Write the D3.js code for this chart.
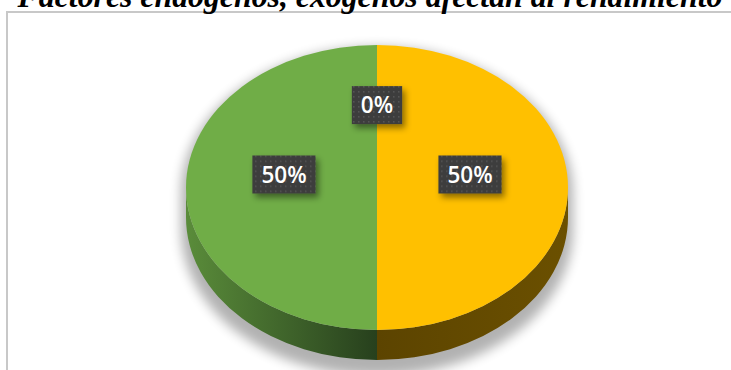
<!DOCTYPE html>
<html><head><meta charset="utf-8">
<script src="https://cdn.jsdelivr.net/npm/d3@7"></script>
<style>html,body{margin:0;padding:0;background:#fff;overflow:hidden}</style>
</head><body>
<script>
const title = "Factores endógenos, exógenos afectan al rendimiento";
const categories = ["Factores endógenos", "Factores exógenos", "Ninguno"];
const values = [50, 50, 0];
const labels = ["50%", "50%", "0%"];
const colors = ["#FFC000", "#70AD47", "#A5A5A5"];
const sideColors = [["#6b5000", "#5c4400"], ["#27401d", "#5a8c3a"], ["#555", "#444"]];

const W = 731, H = 370;
const cx = 377, cy = 187.5, rx = 191, ry = 142.5, depth = 30;
const k = ry / rx;

const svg = d3.select("body").append("svg").attr("width", W).attr("height", H);
const defs = svg.append("defs");

// chart border
svg.append("rect").attr("x", 7).attr("y", 12).attr("width", W + 10).attr("height", H + 10)
  .attr("fill", "none").attr("stroke", "#c8c8c8").attr("stroke-width", 2);

// title
const t = svg.append("text").attr("x", 370).attr("y", 7).attr("text-anchor", "middle")
  .attr("font-family", "'Liberation Serif','Times New Roman',serif").attr("font-weight", "bold")
  .attr("font-style", "italic").attr("font-size", 28).attr("fill", "#000").text(title);
const tl = t.node().getComputedTextLength();
t.attr("font-size", 28 * 705 / tl);

// shadow
const blur = defs.append("filter").attr("id", "blur").attr("x", "-20%").attr("y", "-20%").attr("width", "140%").attr("height", "140%");
blur.append("feGaussianBlur").attr("stdDeviation", 6);
svg.append("path")
  .attr("d", `M${cx - rx - 5},${cy + 6} A${rx + 5},${ry + 4} 0 0 1 ${cx + rx + 5},${cy + 6} L${cx + rx + 5},${cy + depth + 12} A${rx + 5},${ry + 4} 0 0 1 ${cx - rx - 5},${cy + depth + 12} Z`)
  .attr("fill", "#000").attr("opacity", 0.3).attr("filter", "url(#blur)");

const pie = d3.pie().value(d => d).sort(null);
const arcs = pie(values);

const pt = (a, dy) => [cx + rx * Math.sin(a), cy - ry * Math.cos(a) + dy];

// side walls
arcs.forEach((d, i) => {
  const a0 = Math.max(d.startAngle, Math.PI / 2), a1 = Math.min(d.endAngle, 3 * Math.PI / 2);
  if (a1 <= a0) return;
  const g = defs.append("linearGradient").attr("id", "side" + i).attr("gradientUnits", "userSpaceOnUse")
    .attr("x1", pt(a0, 0)[0]).attr("y1", 0).attr("x2", pt(a1, 0)[0]).attr("y2", 0);
  const c = sideColors[i];
  g.append("stop").attr("offset", 0).attr("stop-color", c[0]);
  g.append("stop").attr("offset", 1).attr("stop-color", c[1]);
  const p0 = pt(a0, 0), p1 = pt(a1, 0), q1 = pt(a1, depth), q0 = pt(a0, depth);
  svg.append("path")
    .attr("d", `M${p0} A${rx},${ry} 0 0 1 ${p1} L${q1} A${rx},${ry} 0 0 0 ${q0} Z`)
    .attr("fill", `url(#side${i})`);
});

// top face
const arc = d3.arc().innerRadius(0).outerRadius(rx);
const topFace = svg.append("g").attr("transform", `translate(${cx},${cy}) scale(1,${k})`);
topFace.selectAll("path").data(arcs).join("path")
  .attr("d", arc).attr("fill", (d, i) => colors[i]);

// label box pattern & shadow
const pat = defs.append("pattern").attr("id", "dots").attr("patternUnits", "userSpaceOnUse")
  .attr("width", 5).attr("height", 5);
pat.append("rect").attr("width", 5).attr("height", 5).attr("fill", "#3d3d3d");
pat.append("rect").attr("x", 1).attr("y", 1).attr("width", 1.5).attr("height", 1.5).attr("fill", "#575757");
const sh = defs.append("filter").attr("id", "lblsh").attr("x", "-30%").attr("y", "-30%").attr("width", "170%").attr("height", "180%");
sh.append("feDropShadow").attr("dx", 3).attr("dy", 4).attr("stdDeviation", 3)
  .attr("flood-color", "#000").attr("flood-opacity", 0.45);

const labelArc = d3.arc().innerRadius(rx * 0.487).outerRadius(rx * 0.487);
arcs.forEach((d, i) => {
  const [x0, y0] = labelArc.centroid(d);
  const x = cx + x0, y = cy + y0 * k - 13;
  const g = svg.append("g").attr("transform", `translate(${x},${y})`);
  const r = g.append("rect").attr("fill", "url(#dots)").attr("filter", "url(#lblsh)");
  const tx = g.append("text").attr("text-anchor", "middle").attr("dy", "0.36em")
    .attr("font-family", "'Open Sans','Noto Sans',sans-serif").attr("font-weight", 600)
    .attr("font-size", 22.5).attr("fill", "#fff").text(labels[i]);
  const w = tx.node().getComputedTextLength() + 18;
  const h = 38;
  r.attr("x", -w / 2).attr("y", -h / 2).attr("width", w).attr("height", h);
});
</script>
</body></html>
